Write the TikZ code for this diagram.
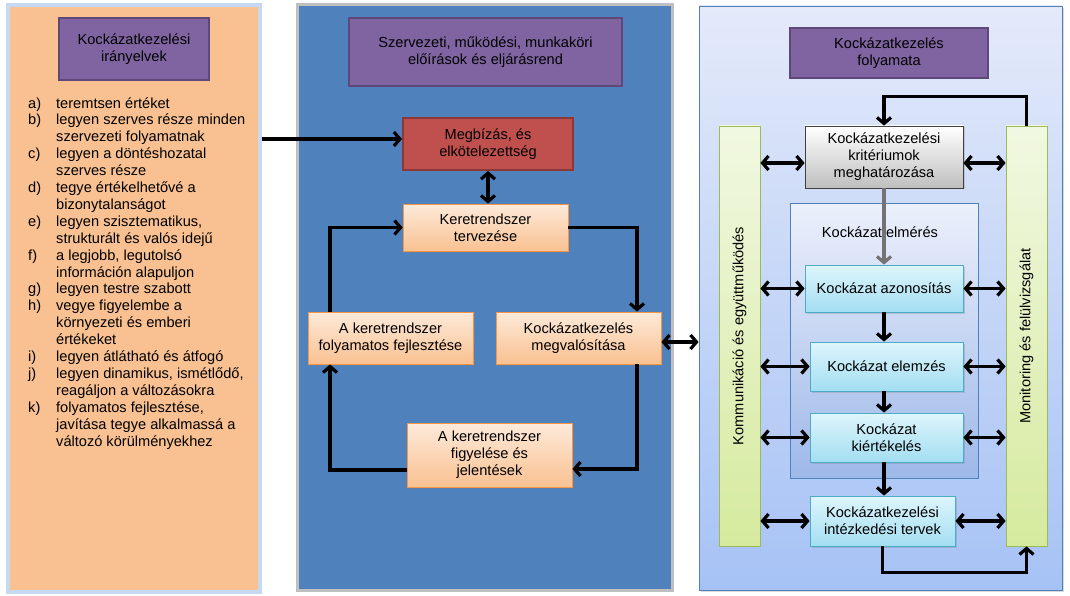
\documentclass[tikz,border=0pt]{standalone}
\usepackage{fontspec}
\setmainfont{Liberation Sans}
\usepackage{tikz}
\usetikzlibrary{arrows.meta}
\usetikzlibrary{positioning}
\usetikzlibrary{shadows}
\definecolor{barack}{RGB}{249,193,145}
\definecolor{baracklight}{RGB}{253,234,218}
\definecolor{narancs}{RGB}{247,150,70}
\definecolor{lila}{RGB}{128,100,162}
\definecolor{liladark}{RGB}{94,72,122}
\definecolor{piros}{RGB}{192,80,77}
\definecolor{pirosdark}{RGB}{140,56,54}
\definecolor{kek}{RGB}{79,129,189}
\definecolor{kekkeret}{RGB}{198,217,241}
\definecolor{szurke}{RGB}{191,191,191}
\definecolor{zold}{RGB}{155,187,89}
\definecolor{zoldlight}{RGB}{241,248,226}
\definecolor{zolddark}{RGB}{214,234,158}
\definecolor{cian}{RGB}{75,172,198}
\definecolor{cianlight}{RGB}{222,245,252}
\definecolor{ciandark}{RGB}{163,222,242}
\definecolor{egtop}{RGB}{228,234,250}
\definecolor{egbottom}{RGB}{166,194,245}
\tikzset{
    cim/.style={draw=liladark, fill=lila, line width=2pt, align=center},
    lepes/.style={draw=narancs, top color=baracklight, bottom color=barack,
        line width=0.8pt, align=center,
        drop shadow={opacity=0.3, shadow xshift=1.5pt, shadow yshift=-1.5pt}},
    folyamat/.style={draw=cian, top color=cianlight, bottom color=ciandark,
        line width=0.8pt, align=center,
        drop shadow={opacity=0.3, shadow xshift=1.5pt, shadow yshift=-1.5pt}},
    savos/.style={draw=zold, top color=zoldlight, bottom color=zolddark,
        line width=0.8pt, minimum width=41pt, minimum height=420pt},
    nyil/.style={-{Straight Barb[length=6pt, width=14pt]}, line width=3.2pt},
    kettos/.style={{Straight Barb[length=6pt, width=14pt]}-{Straight Barb[length=6pt, width=14pt]}, line width=3.2pt},
}
\begin{document}
\begin{tikzpicture}[x=1pt, y=-1pt,
    every node/.style={font=\fontsize{14.6}{16.9}\selectfont, text=black}]
\useasboundingbox (0,0) rectangle (1070,596);
	% three panels
	\node[draw=kekkeret, fill=barack, line width=3.5pt, minimum width=252pt, minimum height=587pt,
	    drop shadow={opacity=0.35, shadow xshift=2pt, shadow yshift=-2pt}] (balpanel) at (134,298.5) {};
	\node[draw=szurke, fill=kek, line width=3pt, minimum width=375pt, minimum height=585pt] (kozeppanel) at (484.5,297.5) {};
	\node[draw=kek, top color=egtop, bottom color=egbottom, line width=0.8pt, minimum width=363pt, minimum height=584pt,
	    drop shadow={opacity=0.3, shadow xshift=2pt, shadow yshift=-2pt}] (jobbpanel) at (880.5,298) {};
	% left panel
	\node[cim, minimum width=150pt, minimum height=62pt] (iranyelv) at (134,49) {Kockázatkezelési\\irányelvek};
	\node[anchor=north west, inner sep=0pt] (lista) at (28,96) {%
	\begin{tabular}{@{}p{28pt}@{}l@{}}
	a) & teremtsen értéket\\
	b) & legyen szerves része minden\\
	   & szervezeti folyamatnak\\
	c) & legyen a döntéshozatal\\
	   & szerves része\\
	d) & tegye értékelhetővé a\\
	   & bizonytalanságot\\
	e) & legyen szisztematikus,\\
	   & strukturált és valós idejű\\
	f) & a legjobb, legutolsó\\
	   & információn alapuljon\\
	g) & legyen testre szabott\\
	h) & vegye figyelembe a\\
	   & környezeti és emberi\\
	   & értékeket\\
	i) & legyen átlátható és átfogó\\
	j) & legyen dinamikus, ismétlődő,\\
	   & reagáljon a változásokra\\
	k) & folyamatos fejlesztése,\\
	   & javítása tegye alkalmassá a\\
	   & változó körülményekhez
	\end{tabular}};
	% middle panel
	\node[cim, minimum width=273pt, minimum height=68pt] (szervezeti) at (485.5,52) {Szervezeti, működési, munkaköri\\előírások és eljárásrend};
	\node[draw=pirosdark, fill=piros, line width=2pt, align=center, minimum width=170pt, minimum height=52pt] (megbizas) at (488,144) {Megbízás, és\\elkötelezettség};
	\node[lepes, minimum width=165pt, minimum height=47pt] (tervezes) at (485.5,227.5) {Keretrendszer\\tervezése};
	\node[lepes, minimum width=165pt, minimum height=52pt] (fejlesztes) at (390.5,338) {A keretrendszer\\folyamatos fejlesztése};
	\node[lepes, minimum width=165pt, minimum height=52pt] (megvalositas) at (578.5,338) {Kockázatkezelés\\megvalósítása};
	\node[lepes, minimum width=165pt, minimum height=64pt] (figyeles) at (489.5,455) {A keretrendszer\\figyelése és\\jelentések};
	% right panel
	\node[cim, minimum width=198pt, minimum height=50pt] (folyamata) at (889,53) {Kockázatkezelés\\folyamata};
	\node[savos] (kommsav) at (739.5,336) {};
	\node[rotate=90] (kommszoveg) at (kommsav) {Kommunikáció és együttműködés};
	\node[savos] (monsav) at (1026.5,336) {};
	\node[rotate=90] (monszoveg) at (monsav) {Monitoring és felülvizsgálat};
	\node[draw=black!75, top color=white, bottom color=szurke, line width=0.8pt, align=center,
	    minimum width=158pt, minimum height=62pt,
	    drop shadow={opacity=0.3, shadow xshift=1.5pt, shadow yshift=-1.5pt}] (kriterium) at (884,157) {Kockázatkezelési\\kritériumok\\meghatározása};
	\node[draw=kek, top color=egtop!70!white, bottom color=egbottom!95!black, line width=0.8pt,
	    minimum width=188pt, minimum height=275pt] (felmeres) at (884,340.5) {};
	\node (felmerescim) at (880,232) {Kockázatfelmérés};
	\node[folyamat, minimum width=158pt, minimum height=47pt] (azonositas) at (884,288.5) {Kockázat azonosítás};
	\node[folyamat, minimum width=153pt, minimum height=49pt] (elemzes) at (886.5,366.5) {Kockázat elemzés};
	\node[folyamat, minimum width=153pt, minimum height=49pt] (kiertekeles) at (886.5,437.5) {Kockázat\\kiértékelés};
	\node[folyamat, minimum width=145pt, minimum height=50pt] (intezkedes) at (882.5,521) {Kockázatkezelési\\intézkedési tervek};
	% connectors, middle
	\draw[nyil] ([yshift=5pt]balpanel.east |- megbizas.west) -- ([yshift=5pt]megbizas.west);
	\draw[kettos] (megbizas.south) -- (megbizas.south |- tervezes.north);
	\draw[nyil] (tervezes.east) -| ([xshift=58.5pt]megvalositas.north);
	\draw[nyil] ([xshift=58.5pt]megvalositas.south) |- ([yshift=-14pt]figyeles.east);
	\draw[nyil] ([yshift=-15pt]figyeles.west) -| ([xshift=-60.5pt]fejlesztes.south);
	\draw[nyil] ([xshift=-60.5pt]fejlesztes.north) |- (tervezes.west);
	\draw[kettos] ([yshift=-4pt]megvalositas.east) -- ([yshift=-4pt]megvalositas.east -| jobbpanel.west);
	% connectors, right
	\draw[nyil] (monsav.north) -- ++(0,-29) -| (kriterium.north);
	\draw[-{Straight Barb[length=6pt, width=14pt]}, line width=3.2pt, black!55] (kriterium.south) -- (azonositas.north);
	\draw[nyil] (azonositas.south) -- (azonositas.south |- elemzes.north);
	\draw[nyil] (azonositas.south |- elemzes.south) -- (azonositas.south |- kiertekeles.north);
	\draw[nyil] (azonositas.south |- kiertekeles.south) -- (azonositas.south |- intezkedes.north);
	\draw[nyil] (intezkedes.south) -- ++(0,26) -| (monsav.south);
	\draw[kettos] ([yshift=-6pt]kommsav.east |- kriterium.west) -- ([yshift=-6pt]kriterium.west);
	\draw[kettos] ([yshift=-6pt]kriterium.east) -- ([yshift=-6pt]kriterium.east -| monsav.west);
	\foreach \lep in {azonositas, elemzes, kiertekeles, intezkedes} {
	    \draw[kettos] (kommsav.east |- \lep.west) -- (\lep.west);
	    \draw[kettos] (\lep.east) -- (\lep.east -| monsav.west);
	}
\end{tikzpicture}
\end{document}
